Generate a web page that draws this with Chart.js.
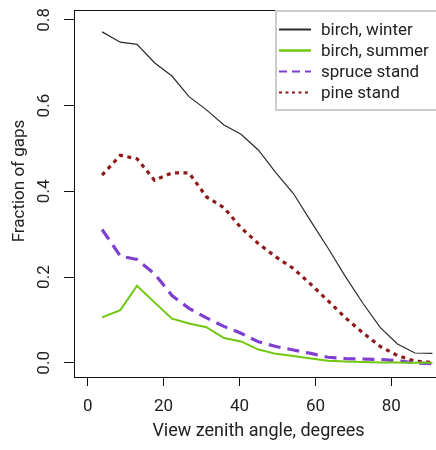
<!DOCTYPE html>
<html>
<head>
<meta charset="utf-8">
<script src="https://cdn.jsdelivr.net/npm/chart.js@4.4.1/dist/chart.umd.min.js"></script>
<style>
  html, body { margin: 0; padding: 0; background: #fff; overflow: hidden; }
  #wrap { width: 446px; height: 450px; }
</style>
</head>
<body>
<div id="wrap"><canvas id="gapChart" width="446" height="450"></canvas></div>
<script>
// view zenith angles (degrees)
var angles = [3.8, 8.6, 13.0, 17.6, 22.2, 26.7, 31.3, 35.9, 40.4, 45.0,
              49.6, 54.2, 58.8, 63.3, 67.9, 72.5, 77.1, 81.6, 86.2, 90.8];

var birchWinter = [0.772, 0.748, 0.743, 0.700, 0.669, 0.621, 0.590, 0.555, 0.533, 0.496,
                   0.443, 0.395, 0.330, 0.268, 0.201, 0.139, 0.082, 0.044, 0.023, 0.022];
var birchSummer = [0.106, 0.123, 0.180, 0.141, 0.103, 0.092, 0.083, 0.058, 0.050, 0.031,
                   0.021, 0.016, 0.010, 0.005, 0.003, 0.002, 0.001, 0.001, 0.000, 0.000];
var spruceStand = [0.311, 0.249, 0.241, 0.208, 0.157, 0.127, 0.105, 0.085, 0.069, 0.049,
                   0.038, 0.030, 0.022, 0.013, 0.010, 0.009, 0.008, 0.005, 0.000, -0.002];
var pineStand   = [0.438, 0.484, 0.476, 0.426, 0.443, 0.443, 0.387, 0.362, 0.315, 0.278,
                   0.247, 0.220, 0.183, 0.145, 0.105, 0.070, 0.038, 0.017, 0.004, 0.001];

var xTicks = [0, 20, 40, 60, 80];
var yTicks = [0.0, 0.2, 0.4, 0.6, 0.8];

function pts(vals) {
    var out = [];
    for (var i in vals) {
        out.push({ x: angles[i], y: vals[i] });
    }
    return out;
}

var FONT = "Roboto";

// R style legend drawn inside the top right corner of the plot box
var boxLegend = {
    id: 'boxLegend',
    afterDraw: function (chart) {
        var ctx = chart.ctx;
        var area = chart.chartArea;
        var sets = chart.data.datasets;
        ctx.save();
        ctx.font = "17px " + FONT;
        var lineLen = 32, rowH = 21;
        var w = 168, h = 101;
        var left = area.right - w;
        var top = area.top;
        ctx.fillStyle = '#fff';
        ctx.fillRect(left, top, w, h);
        ctx.strokeStyle = '#cccccc';
        ctx.lineWidth = 2;
        ctx.strokeRect(left + 1, top + 1, w - 2, h - 2);
        for (var j = 0; j < sets.length; j++) {
            var ds = sets[j];
            var y = top + 19.5 + j * rowH;
            ctx.beginPath();
            ctx.setLineDash(ds.legendDash || []);
            ctx.lineWidth = ds.legendWidth;
            ctx.strokeStyle = ds.borderColor;
            ctx.moveTo(left + 4, y);
            ctx.lineTo(left + 4 + lineLen, y);
            ctx.stroke();
            ctx.setLineDash([]);
            ctx.fillStyle = '#222';
            ctx.textBaseline = 'middle';
            ctx.textAlign = 'left';
            ctx.fillText(ds.label, left + 46, y + 1);
        }
        ctx.restore();
    }
};

// top/right side of the plot box, rotated y tick labels and the y title
var plotBox = {
    id: 'plotBox',
    afterDatasetsDraw: function (chart) {
        var a = chart.chartArea;
        var ys = chart.scales.y;
        var ctx = chart.ctx;
        ctx.save();
        ctx.strokeStyle = '#111';
        ctx.lineWidth = 1;
        ctx.beginPath();
        ctx.moveTo(a.left, a.top + 0.5);
        ctx.lineTo(a.right - 0.5, a.top + 0.5);
        ctx.lineTo(a.right - 0.5, a.bottom);
        ctx.stroke();

        ctx.font = "17px " + FONT;
        ctx.fillStyle = '#222';
        ctx.textAlign = 'center';
        ctx.textBaseline = 'middle';
        ys.ticks.forEach(function (t) {
            var py = ys.getPixelForValue(t.value);
            ctx.save();
            ctx.translate(45, py);
            ctx.rotate(-Math.PI / 2);
            ctx.fillText(t.value.toFixed(1), 0, 0);
            ctx.restore();
        });

        ctx.translate(20, 181);
        ctx.rotate(-Math.PI / 2);
        ctx.fillText('Fraction of gaps', 0, 0);
        ctx.restore();
    }
};

var chartdata = {
    datasets: [
        {
            label: "birch, winter",
            data: pts(birchWinter),
            borderColor: '#2b2b2b',
            borderWidth: 1.2,
            legendWidth: 2
        },
        {
            label: "birch, summer",
            data: pts(birchSummer),
            borderColor: '#6fc80e',
            borderWidth: 2,
            legendWidth: 2.5
        },
        {
            label: "spruce stand",
            data: pts(spruceStand),
            borderColor: '#7f3fd2',
            borderWidth: 3.2,
            borderDash: [12, 7],
            legendWidth: 2,
            legendDash: [8, 5]
        },
        {
            label: "pine stand",
            data: pts(pineStand),
            borderColor: '#8e1a1a',
            borderWidth: 3.2,
            borderDash: [4, 4.5],
            legendWidth: 2,
            legendDash: [3, 3.5]
        }
    ]
};

var ctx = document.getElementById("gapChart");

var gapChart = new Chart(ctx, {
    type: 'line',
    data: chartdata,
    options: {
        responsive: false,
        animation: false,
        layout: { padding: { top: 10, right: 3, left: 0, bottom: 0 } },
        elements: {
            point: { radius: 0 },
            line: { tension: 0, fill: false }
        },
        plugins: {
            legend: { display: false },
            tooltip: { enabled: false }
        },
        scales: {
            x: {
                type: 'linear',
                min: -3.6,
                max: 93.6,
                afterFit: function (s) {
                    s.height = 73;
                    s.paddingLeft = 0;
                    s.paddingRight = 0;
                },
                afterBuildTicks: function (s) {
                    s.ticks = xTicks.map(function (v) { return { value: v }; });
                },
                ticks: {
                    font: { family: FONT, size: 17 },
                    color: '#222',
                    padding: 11,
                    maxRotation: 0,
                    callback: function (v) { return String(v); }
                },
                grid: {
                    drawOnChartArea: false,
                    drawTicks: true,
                    tickLength: 9,
                    color: '#111'
                },
                border: { display: true, color: '#111', width: 1 },
                title: {
                    display: true,
                    text: 'View zenith angle, degrees',
                    font: { family: FONT, size: 18 },
                    color: '#222',
                    padding: { top: 0, bottom: 8 }
                }
            },
            y: {
                type: 'linear',
                min: -0.033,
                max: 0.823,
                afterFit: function (s) {
                    s.width = 74;
                    s.paddingTop = 0;
                    s.paddingBottom = 0;
                },
                afterBuildTicks: function (s) {
                    s.ticks = yTicks.map(function (v) { return { value: v }; });
                },
                ticks: {
                    // labels are drawn rotated by the plotBox plugin
                    color: 'rgba(0,0,0,0)',
                    padding: 7
                },
                grid: {
                    drawOnChartArea: false,
                    drawTicks: true,
                    tickLength: 10,
                    color: '#111'
                },
                border: { display: true, color: '#111', width: 1 }
            }
        }
    },
    plugins: [plotBox, boxLegend]
});
</script>
</body>
</html>
